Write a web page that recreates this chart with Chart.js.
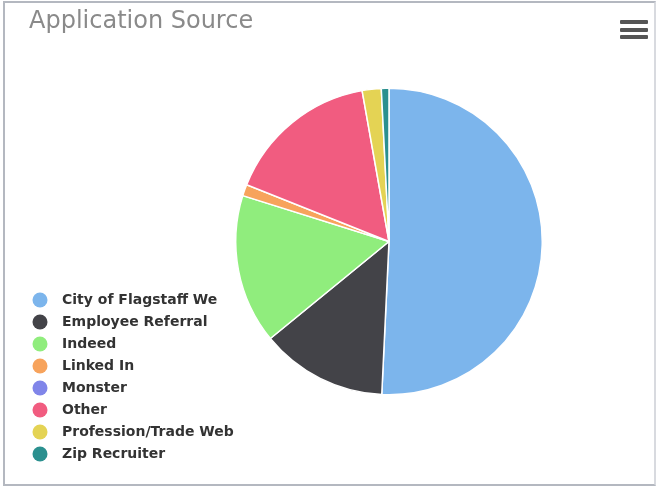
<!DOCTYPE html>
<html>
<head>
<meta charset="utf-8">
<script src="https://cdn.jsdelivr.net/npm/chart.js@4"></script>
<style>
  html, body { margin: 0; padding: 0; background: #fff; }
  #wrap { position: relative; width: 659px; height: 488px; box-sizing: border-box; }
  #frame { position: absolute; left: 3px; top: 1px; width: 653px; height: 485px; box-sizing: border-box;
           border: 2px solid #b4b8c0; border-right-color: #d8dadf; pointer-events: none; }
  #menu { position: absolute; left: 620px; top: 20px; width: 28px; }
  #menu div { height: 4px; background: #555; border-radius: 1px; margin-bottom: 3.5px; }
  canvas { position: absolute; left: 0; top: 0; }
</style>
</head>
<body>
<div id="wrap">
  <canvas id="c" width="659" height="488"></canvas>
  <div id="frame"></div>
  <div id="menu"><div></div><div></div><div></div></div>
</div>
<script>
const categories = ["City of Flagstaff We", "Employee Referral", "Indeed", "Linked In", "Monster", "Other", "Profession/Trade Web", "Zip Recruiter"];
const values = [50.6, 13.3, 15.7, 1.2, 0, 16.1, 2.0, 0.8];
const colors = ["#7cb5ec", "#434348", "#90ed7d", "#f7a35c", "#8085e9", "#f15c80", "#e4d354", "#2b908f"];

// circular legend markers, drawn left of the legend box centre
function marker(color) {
  const cv = document.createElement('canvas');
  cv.width = 30; cv.height = 16;
  const g = cv.getContext('2d');
  g.fillStyle = color;
  g.beginPath();
  g.arc(9, 8, 7.5, 0, Math.PI * 2);
  g.fill();
  return cv;
}
const markers = colors.map(marker);

new Chart(document.getElementById('c'), {
  type: 'pie',
  data: {
    labels: categories,
    datasets: [{
      data: values,
      backgroundColor: colors,
      borderColor: '#ffffff',
      borderWidth: 1.5
    }]
  },
  options: {
    responsive: false,
    animation: false,
    layout: { padding: { left: 29, top: 0, right: 116, bottom: 19 } },
    plugins: {
      tooltip: { enabled: false },
      title: {
        display: true,
        text: 'Application Source',
        align: 'start',
        color: '#8a8a8a',
        font: { family: 'DejaVu Sans', size: 24, weight: 'normal', lineHeight: 1 },
        padding: { top: 10, bottom: -20 }
      },
      legend: {
        position: 'left',
        align: 'end',
        maxWidth: 206,
        labels: {
          usePointStyle: true,
          pointStyleWidth: 18,
          boxHeight: 14,
          padding: 8,
          color: '#333333',
          font: { family: 'DejaVu Sans', size: 14, weight: 'bold' },
          generateLabels(chart) {
            return chart.data.labels.map((label, i) => ({
              text: label,
              fillStyle: colors[i],
              strokeStyle: colors[i],
              lineWidth: 0,
              pointStyle: markers[i],
              fontColor: '#333333',
              hidden: !chart.getDataVisibility(i),
              index: i
            }));
          }
        }
      }
    }
  }
});
</script>
</body>
</html>
